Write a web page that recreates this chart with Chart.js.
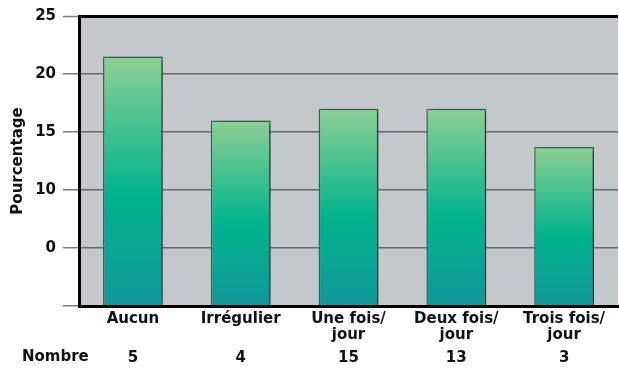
<!DOCTYPE html>
<html>
<head>
<meta charset="utf-8">
<script src="https://cdn.jsdelivr.net/npm/chart.js@4/dist/chart.umd.min.js"></script>
<style>
  html, body { margin: 0; padding: 0; background: #fff; }
  #wrap { width: 619px; height: 373px; }
</style>
</head>
<body>
<div id="wrap"><canvas id="chartHabitude"></canvas></div>
<script>
var categories = [['Aucun'], ['Irrégulier'], ['Une fois/', 'jour'], ['Deux fois/', 'jour'], ['Trois fois/', 'jour']];
var pourcentage = [21.5, 16, 17, 17, 13.7];
var nombre = ['5', '4', '15', '13', '3'];
// the original labels the 5 line as "0"
var yTickLabels = ['', '0', '10', '15', '20', '25'];

var boldFont = { family: '"DejaVu Sans", Arial, sans-serif', weight: 'bold' };

var plotBg = {
    id: 'plotBg',
    beforeDraw: function (chart) {
        var a = chart.chartArea, ctx = chart.ctx;
        ctx.save();
        ctx.fillStyle = '#c4c8cb';
        ctx.fillRect(a.left, a.top, a.right - a.left, a.bottom - a.top);
        ctx.restore();
    },
    beforeDatasetsDraw: function (chart) {
        var ctx = chart.ctx;
        ctx.save();
        ctx.shadowColor = 'rgba(0,0,0,0.5)';
        ctx.shadowBlur = 7;
        ctx.shadowOffsetX = 4;
        ctx.shadowOffsetY = 1;
    },
    afterDatasetsDraw: function (chart) {
        chart.ctx.restore();
    },
    afterDraw: function (chart) {
        var ctx = chart.ctx, s = chart.scales.x2;
        ctx.save();
        ctx.font = 'bold 15px "DejaVu Sans", Arial, sans-serif';
        ctx.fillStyle = '#111';
        ctx.textAlign = 'left';
        ctx.textBaseline = 'middle';
        ctx.fillText('Nombre', 22, s.top + 8);
        ctx.restore();
    }
};

function barGradient(context) {
    var chart = context.chart;
    if (!chart.chartArea) return '#00b48c';
    var y = chart.scales.y;
    var v = context.raw;
    var top = y.getPixelForValue(v), bottom = y.getPixelForValue(0);
    var g = chart.ctx.createLinearGradient(0, top, 0, bottom);
    g.addColorStop(0, '#8dcf94');
    g.addColorStop(0.55, '#02b48d');
    g.addColorStop(1, '#11979a');
    return g;
}

new Chart(document.getElementById('chartHabitude').getContext('2d'), {
    type: 'bar',
    data: {
        labels: categories,
        datasets: [{
            label: 'Pourcentage',
            data: pourcentage,
            backgroundColor: barGradient,
            borderColor: '#3d6a58',
            borderWidth: 1.5,
            categoryPercentage: 1,
            barPercentage: 0.555,
        }],
    },
    options: {
        responsive: true,
        maintainAspectRatio: false,
        animation: false,
        layout: { padding: { top: 12, right: 1, left: 0, bottom: 0 } },
        plugins: {
            legend: { display: false },
            tooltip: { enabled: false },
        },
        scales: {
            x: {
                position: 'bottom',
                grid: { display: false, drawTicks: false },
                border: { display: true, color: '#000', width: 3 },
                ticks: { color: '#111', padding: 5, font: Object.assign({ size: 15, lineHeight: 1.05 }, boldFont), maxRotation: 0, autoSkip: false },
                afterFit: function (s) { s.height = 43; },
            },
            x2: {
                type: 'category',
                labels: nombre,
                position: 'bottom',
                grid: { display: false, drawTicks: false },
                border: { display: false },
                ticks: { color: '#111', padding: 0, font: Object.assign({ size: 15 }, boldFont) },
                afterFit: function (s) { s.height = 24; },
            },
            y: {
                min: 0,
                max: 25,
                ticks: {
                    stepSize: 5,
                    color: '#111',
                    padding: 7,
                    font: Object.assign({ size: 15 }, boldFont),
                    callback: function (v, i) { return yTickLabels[i]; },
                },
                grid: {
                    color: function (c) { return c.tick && c.tick.value === 25 ? '#000' : '#65686a'; },
                    lineWidth: function (c) { return c.tick && c.tick.value === 25 ? 3 : 1.5; },
                    tickColor: '#7a7d80',
                    tickLength: 16,
                    tickWidth: 1.5,
                },
                border: { display: true, color: '#000', width: 3 },
                title: {
                    display: true,
                    text: 'Pourcentage',
                    color: '#111',
                    padding: { top: 9, bottom: 0 },
                    font: Object.assign({ size: 15 }, boldFont),
                },
                afterFit: function (s) { s.width = 79; },
            },
        },
    },
    plugins: [plotBg],
});
</script>
</body>
</html>
